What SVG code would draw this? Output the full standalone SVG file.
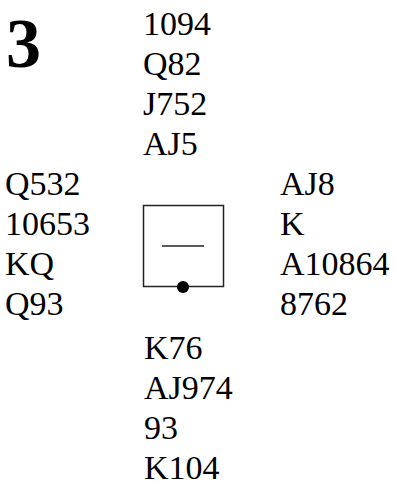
<svg xmlns="http://www.w3.org/2000/svg" width="396" height="484" viewBox="0 0 396 484">
<style>
.t{font-family:"Liberation Serif","Times New Roman",serif;font-size:34px;fill:#000}
.b{font-family:"Liberation Serif","Times New Roman",serif;font-size:70px;font-weight:bold;fill:#000}
</style>
<rect width="396" height="484" fill="#fff"/>
<g id="board-number"><text class="b" x="6" y="67">3</text></g>
<g id="north" class="t">
<text class="t" x="143" y="35">1094</text>
<text class="t" x="143" y="75">Q82</text>
<text class="t" x="143" y="115">J752</text>
<text class="t" x="143" y="155">AJ5</text>
</g>
<g id="west">
<text class="t" x="5" y="195">Q532</text>
<text class="t" x="5" y="235">10653</text>
<text class="t" x="5" y="275">KQ</text>
<text class="t" x="5" y="315">Q93</text>
</g>
<g id="east">
<text class="t" x="280" y="195">AJ8</text>
<text class="t" x="280" y="235">K</text>
<text class="t" x="280" y="275">A10864</text>
<text class="t" x="280" y="315">8762</text>
</g>
<g id="south">
<text class="t" x="144" y="359">K76</text>
<text class="t" x="144" y="399">AJ974</text>
<text class="t" x="144" y="439">93</text>
<text class="t" x="144" y="479">K104</text>
</g>
<g id="table">
<rect x="143.5" y="205.5" width="80" height="81" fill="none" stroke="#222" stroke-width="1.5"/>
<line x1="162" y1="246" x2="204" y2="246" stroke="#222" stroke-width="1.5"/>
<circle cx="183" cy="287" r="6" fill="#000"/>
</g>
</svg>
